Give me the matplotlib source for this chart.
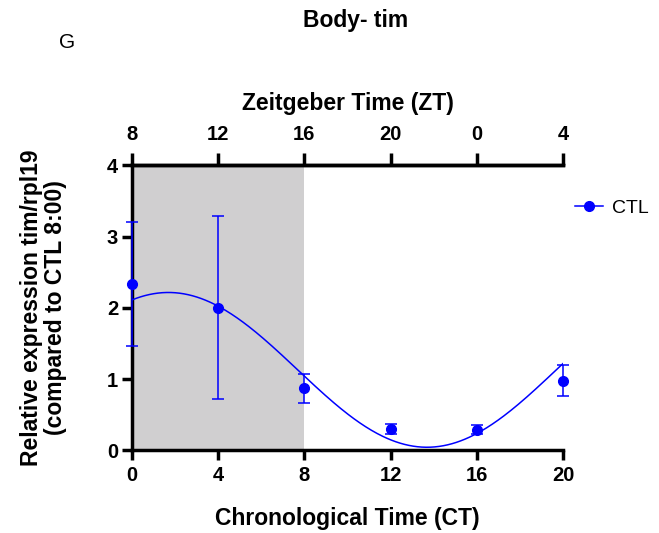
import numpy as np
import matplotlib
matplotlib.use("Agg")
import matplotlib.pyplot as plt

plt.rcParams["font.family"] = ["Liberation Sans", "DejaVu Sans"]

# data (means and SEM)
ct = [0, 4, 8, 12, 16, 20]
ctl_mean = [2.34, 2.00, 0.88, 0.30, 0.29, 0.98]
ctl_err_low = [0.87, 1.28, 0.21, 0.07, 0.06, 0.22]
ctl_err_high = [0.87, 1.29, 0.19, 0.07, 0.07, 0.22]
zt_labels = ["8", "12", "16", "20", "0", "4"]
dark_phase = (0, 8)
period = 24.0

BLUE = "#0000ff"
GREY = "#d0cfd0"
TICK_FS = 14.5
LABEL_FS = 16.5
SPINE_W = 2.5

# cosinor fit (fixed 24 h period) on the means
t = np.array(ct, dtype=float)
y = np.array(ctl_mean)
w = 2 * np.pi / period
X = np.column_stack([np.ones_like(t), np.cos(w * t), np.sin(w * t)])
coef, *_ = np.linalg.lstsq(X, y, rcond=None)
tt = np.linspace(ct[0], ct[-1], 300)
fit = coef[0] + coef[1] * np.cos(w * tt) + coef[2] * np.sin(w * tt)

fig = plt.figure(figsize=(6.59, 5.33), dpi=100)
ax = fig.add_axes([0.2003, 0.1548, 0.654, 0.5347])

ax.axvspan(*dark_phase, ymin=0.006, ymax=0.994, facecolor=GREY, edgecolor="none", zorder=0)

ax.plot(tt, fit, color=BLUE, lw=1.1, zorder=3)
ax.errorbar(ct, ctl_mean, yerr=[ctl_err_low, ctl_err_high], fmt="none",
            ecolor=BLUE, elinewidth=1.1, capsize=4, capthick=1.1, zorder=4, clip_on=False)
ax.plot(ct, ctl_mean, "o", color=BLUE, ms=7, zorder=5, clip_on=False)

# legend on the right
ax.plot([], [], "-o", color=BLUE, ms=7, lw=1.1, label="CTL")
fig.legend(loc="center left", bbox_to_anchor=(0.872, 0.609), frameon=False,
           fontsize=14, handlelength=1.45, handletextpad=0.45, borderaxespad=0,
           borderpad=0)

ax.set_xlim(0, 20)
ax.set_ylim(0, 4)
ax.set_xticks(ct)
ax.set_yticks([0, 1, 2, 3, 4])

for side in ["left", "bottom", "top"]:
    ax.spines[side].set_linewidth(SPINE_W)
ax.spines["right"].set_visible(False)
ax.tick_params(axis="both", width=SPINE_W, length=7.5, labelsize=TICK_FS)
ax.tick_params(axis="y", pad=2.5)
ax.tick_params(axis="x", pad=3.5)
for lab in ax.get_xticklabels() + ax.get_yticklabels():
    lab.set_fontweight("bold")

ax.set_xlabel("Chronological Time (CT)", fontsize=LABEL_FS, fontweight="bold")
ax.xaxis.set_label_coords(0.5, -0.2)
ax.set_ylabel("Relative expression tim/rpl19\n(compared to CTL 8:00)", fontsize=LABEL_FS,
              fontweight="bold", linespacing=1.1)
ax.yaxis.set_label_coords(-0.15, 0.5)

top = ax.secondary_xaxis("top")
top.set_xticks(ct)
top.set_xticklabels(zt_labels, fontweight="bold")
top.tick_params(width=SPINE_W, length=8.5, labelsize=TICK_FS, pad=7)
top.spines["top"].set_linewidth(SPINE_W)
ax.text(0.5, 1.216, "Zeitgeber Time (ZT)", transform=ax.transAxes, ha="center",
        va="center", fontsize=LABEL_FS, fontweight="bold")

fig.text(0.539, 0.962, "Body- tim", ha="center", va="center", fontsize=LABEL_FS, fontweight="bold")
fig.text(0.102, 0.921, "G", ha="center", va="center", fontsize=15)

fig.savefig("out.png", dpi=100)
